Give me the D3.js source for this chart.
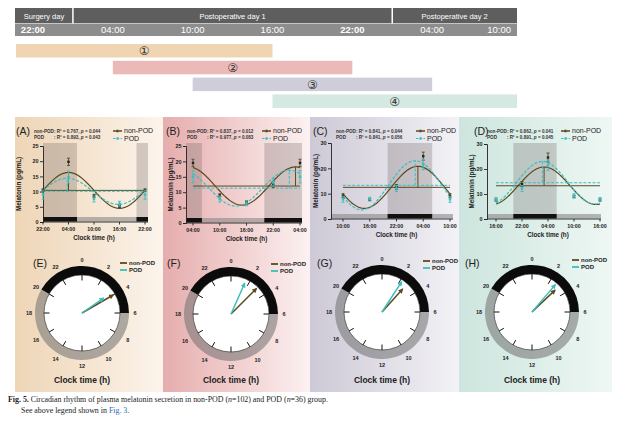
<!DOCTYPE html>
<html><head><meta charset="utf-8">
<script src="https://cdn.jsdelivr.net/npm/d3@7"></script>
<style>body{margin:0;background:#fff}svg{display:block}text{font-family:"Liberation Sans",Arial,sans-serif}</style>
</head><body><svg id="c" width="620" height="428"></svg>
<script>
// ---------------- data ----------------
const dayLabels = ["Surgery day", "Postoperative day 1", "Postoperative day 2"];
const dayBounds = [3, 27];                       // hours after surgery-day 22:00
const headerTimes = ["22:00", "04:00", "10:00", "16:00", "22:00", "04:00", "10:00"];
const headerHours = [0, 6, 12, 18, 24, 30, 36];
const headerBold = [true, false, false, false, true, false, false];
const windowNames = ["①", "②", "③", "④"];
const windowStart = [null, 6, 12, 18];           // null = from the header's left edge
const windowEnd = [18, 24, 30, null];            // null = to the header's right edge
const windowColors = ["#efd5b1", "#ebb9b8", "#cfcdd9", "#d3e9e2"];

const panelTags = ["(A)", "(B)", "(C)", "(D)"];
const clockTags = ["(E)", "(F)", "(G)", "(H)"];
const startClock = [22, 4, 10, 16];
const sampleOffsets = [0, 6, 12, 18, 24];
const xTickLabels = [
  ["22:00", "04:00", "10:00", "16:00", "22:00"],
  ["04:00", "10:00", "16:00", "22:00", "04:00"],
  ["10:00", "16:00", "22:00", "04:00", "10:00"],
  ["16:00", "22:00", "04:00", "10:00", "16:00"]];
const yMaxVals = [25, 25, 30, 30];
const yTickVals = [[0, 5, 10, 15, 20, 25], [0, 5, 10, 15, 20, 25], [0, 10, 20, 30], [0, 10, 20, 30]];
const statNonR2 = ["0.767", "0.837", "0.841", "0.862"];
const statNonP = ["0.044", "0.012", "0.044", "0.041"];
const statPodR2 = ["0.893", "0.977", "0.841", "0.891"];
const statPodP = ["0.043", "0.083", "0.056", "0.045"];

const nonMean = [[10.5, 19.8, 8.6, 5.2, 10.5], [19.5, 9.0, 6.8, 12.5, 19.5], [9.2, 7.6, 12.6, 24.8, 9.2], [7.6, 14.0, 24.6, 9.0, 7.6]];
const nonSE = [[0.4, 1.2, 0.5, 0.4, 0.4], [1.2, 0.5, 0.4, 1.0, 1.2], [0.8, 0.4, 1.0, 1.6, 0.8], [0.4, 1.0, 1.8, 0.5, 0.4]];
const podMean = [[9.0, 14.8, 7.6, 6.0, 9.0], [15.0, 7.8, 6.4, 13.2, 15.0], [7.8, 8.0, 12.0, 21.5, 7.8], [8.0, 12.2, 21.5, 9.3, 8.0]];
const podSE = [[1.5, 2.0, 1.0, 0.8, 1.5], [2.0, 1.0, 0.8, 1.2, 2.0], [1.2, 0.6, 1.2, 2.0, 1.2], [0.6, 1.2, 2.0, 0.8, 0.6]];

const nonMesor = [10.4, 12.0, 12.5, 13.3];
const nonAmp = [5.9, 6.2, 8.3, 7.5];
const nonPhase = [4.0, 3.0, 2.8, 3.1];
const podMesor = [10.1, 11.3, 13.3, 14.5];
const podAmp = [4.3, 5.8, 9.7, 8.5];
const podPhase = [3.7, 1.6, 2.2, 2.7];

const nightStart = 20, nightLen = 10;            // 20:00 -> 06:00
const clockHours = [0, 2, 4, 6, 8, 10, 12, 14, 16, 18, 20, 22];
const seriesNames = ["non-POD", "POD"];
const bgLeft = ["#eed5b6", "#e6adad", "#cdc9d6", "#cde5de"];
const bgRight = ["#fcf4ec", "#fcf1f1", "#f3f2f6", "#eef7f4"];

// ---------------- layout ----------------
const NON = "#5b4a1e", PODC = "#3dbdbe";
const G = {
  ax0: [43, 193, 343, 496], ax24: [145, 300, 450, 600],
  left: [43, 186, 331, 487], right: [148, 302, 453, 601],
  y0: [222, 223, 219, 219], yTop: [146, 146, 143, 144], shadeTop: 143,
  titleX: [21, 173, 318, 474],
  bgX: [15, 163, 310, 459], bgW: [148, 147, 149, 153], bgY: 117, bgH: 275,
  tagX: [16, 166, 313, 474],
  statX: [34, 187, 336, 487],
  legX: [113, 262, 416, 561],
  clockC: [[82, 313], [231, 314], [382, 312], [532, 312]],
  clockTagX: [33, 167, 317, 465],
  clockLegX: [120, 271, 423, 572], clockLegY: [263, 264, 261, 260]
};

const svg = d3.select("#c");
const defs = svg.append("defs");

// ---------- header ----------
const hx = d3.scaleLinear().domain([0, 36]).range([33, 512]);
const HL = 15, HR = 517;
svg.append("rect").attr("x", HL).attr("y", 8).attr("width", HR - HL).attr("height", 15).attr("fill", "#5e5e5e");
svg.append("rect").attr("x", HL).attr("y", 23.5).attr("width", HR - HL).attr("height", 12.5).attr("fill", "#8d8d8d");
dayBounds.forEach(h => svg.append("line").attr("x1", hx(h)).attr("x2", hx(h)).attr("y1", 8).attr("y2", 23.5)
  .attr("stroke", "#fff").attr("stroke-width", 1.5));
const segEdges = [HL, hx(dayBounds[0]), hx(dayBounds[1]), HR];
dayLabels.forEach((t, i) => svg.append("text").attr("x", (segEdges[i] + segEdges[i + 1]) / 2).attr("y", 18.5)
  .attr("text-anchor", "middle").attr("font-size", 7.5).attr("fill", "#fff").text(t));
headerTimes.forEach((t, i) => {
  const last = i === headerTimes.length - 1;
  svg.append("text").attr("x", last ? hx(headerHours[i]) - 1 : hx(headerHours[i])).attr("y", 33)
    .attr("text-anchor", last ? "end" : "middle").attr("font-size", 9.5)
    .attr("font-weight", headerBold[i] ? "bold" : "normal").attr("fill", "#fff").text(t);
});
windowNames.forEach((n, i) => {
  const x1 = windowStart[i] === null ? HL + 1 : hx(windowStart[i]);
  const x2 = windowEnd[i] === null ? HR : hx(windowEnd[i]);
  const yy = 44 + i * 16.8;
  svg.append("rect").attr("x", x1).attr("y", yy).attr("width", x2 - x1).attr("height", 13.5).attr("fill", windowColors[i]);
  svg.append("text").attr("x", (x1 + x2) / 2).attr("y", yy + 11.3).attr("text-anchor", "middle")
    .attr("font-size", 12).attr("fill", "#333").style("font-family", "'DejaVu Sans','Noto Sans CJK SC',sans-serif").text(n);
});

// ---------- arrow markers ----------
[["mNon", NON], ["mPod", PODC]].forEach(([id, c]) => {
  defs.append("marker").attr("id", id).attr("viewBox", "0 0 10 10").attr("refX", 8).attr("refY", 5)
    .attr("markerWidth", 6).attr("markerHeight", 5).attr("markerUnits", "userSpaceOnUse").attr("orient", "auto")
    .append("path").attr("d", "M0,0L10,5L0,10z").attr("fill", c);
});

// ---------- panels ----------
for (let i = 0; i < 4; i++) {
  const gid = "bg" + i;
  const lg = defs.append("linearGradient").attr("id", gid).attr("x1", 0).attr("x2", 1).attr("y1", 0).attr("y2", 0);
  lg.append("stop").attr("offset", 0).attr("stop-color", bgLeft[i]);
  lg.append("stop").attr("offset", 1).attr("stop-color", bgRight[i]);
  svg.append("rect").attr("x", G.bgX[i]).attr("y", G.bgY).attr("width", G.bgW[i]).attr("height", G.bgH).attr("fill", `url(#${gid})`);

  const x = d3.scaleLinear().domain([0, 24]).range([G.ax0[i], G.ax24[i]]);
  const y = d3.scaleLinear().domain([0, yMaxVals[i]]).range([G.y0[i], G.yTop[i]]);
  const d0 = x.invert(G.left[i]), d1 = x.invert(G.right[i]);
  const g = svg.append("g");

  // night shading + light/dark bar
  const ns = (nightStart - startClock[i] + 24) % 24;
  const nights = [];
  [-24, 0, 24].forEach(k => {
    const a = Math.max(d0, ns + k), b = Math.min(d1, ns + k + nightLen);
    if (b > a) nights.push([a, b]);
  });
  nights.forEach(([a, b]) => g.append("rect").attr("x", x(a)).attr("y", G.shadeTop).attr("width", x(b) - x(a))
    .attr("height", G.y0[i] - G.shadeTop).attr("fill", "#6a6060").attr("opacity", 0.28));
  g.append("rect").attr("x", x(d0)).attr("y", G.y0[i] - 5).attr("width", x(d1) - x(d0)).attr("height", 4.5)
    .attr("fill", "#888").attr("opacity", 0.6);
  nights.forEach(([a, b]) => g.append("rect").attr("x", x(a)).attr("y", G.y0[i] - 5).attr("width", x(b) - x(a))
    .attr("height", 4.5).attr("fill", "#111"));

  // axes
  const ya = d3.axisLeft(y).tickValues(yTickVals[i]).tickSize(3).tickPadding(1.5);
  const yg = g.append("g").attr("transform", `translate(${G.left[i]},0)`).call(ya);
  yg.select(".domain").attr("stroke", "#222").attr("stroke-width", 0.9);
  yg.selectAll(".tick line").attr("stroke", "#222").attr("stroke-width", 0.9);
  yg.selectAll("text").attr("font-size", 5.5).attr("font-weight", "bold").attr("fill", "#222")
    .style("font-family", "'Liberation Sans',Arial,sans-serif");
  g.append("line").attr("x1", x(d0)).attr("x2", x(d1)).attr("y1", G.y0[i]).attr("y2", G.y0[i]).attr("stroke", "#222").attr("stroke-width", 0.9);
  sampleOffsets.forEach((t, j) => {
    g.append("line").attr("x1", x(t)).attr("x2", x(t)).attr("y1", G.y0[i]).attr("y2", G.y0[i] + 2.5).attr("stroke", "#222").attr("stroke-width", 0.9);
    g.append("text").attr("x", x(t)).attr("y", G.y0[i] + 8.5).attr("text-anchor", "middle").attr("font-size", 5.3)
      .attr("font-weight", "bold").attr("fill", "#222").text(xTickLabels[i][j]);
  });
  g.append("text").attr("x", (G.ax0[i] + G.ax24[i]) / 2).attr("y", G.y0[i] + 18).attr("text-anchor", "middle")
    .attr("font-size", 6.3).attr("font-weight", "bold").attr("fill", "#222").text("Clock time (h)");
  g.append("text").attr("transform", `translate(${G.titleX[i]},${(G.y0[i] + G.yTop[i]) / 2}) rotate(-90)`)
    .attr("text-anchor", "middle").attr("font-size", 6.3).attr("font-weight", "bold").attr("fill", "#222").text("Melatonin (pg/mL)");

  // mesor lines, amplitude markers, cosinor curves
  const ser = [
    { m: nonMesor[i], a: nonAmp[i], p: nonPhase[i], c: NON, dash: null, mean: nonMean[i], se: nonSE[i] },
    { m: podMesor[i], a: podAmp[i], p: podPhase[i], c: PODC, dash: "3,1.6", mean: podMean[i], se: podSE[i] }];
  ser.forEach(s => {
    g.append("line").attr("x1", x(0)).attr("x2", x(24)).attr("y1", y(s.m)).attr("y2", y(s.m))
      .attr("stroke", s.c).attr("stroke-width", 1).attr("stroke-dasharray", s.dash);
    const tp = (s.p - startClock[i] + 24) % 24;
    g.append("line").attr("x1", x(tp)).attr("x2", x(tp)).attr("y1", y(s.m)).attr("y2", y(s.m + s.a))
      .attr("stroke", s.c).attr("stroke-width", 1).attr("stroke-dasharray", s.dash);
    const ts = d3.range(0, 24.001, 0.2);
    const line = d3.line().x(t => x(t)).y(t => y(s.m + s.a * Math.cos(2 * Math.PI * ((startClock[i] + t) - s.p) / 24)));
    g.append("path").attr("d", line(ts)).attr("fill", "none").attr("stroke", s.c).attr("stroke-width", 1.2)
      .attr("stroke-dasharray", s.dash);
  });
  // error bars + points
  ser.forEach(s => {
    sampleOffsets.forEach((t, j) => {
      const cx = x(t), lo = y(s.mean[j] - s.se[j]), hi = y(s.mean[j] + s.se[j]);
      g.append("line").attr("x1", cx).attr("x2", cx).attr("y1", lo).attr("y2", hi).attr("stroke", s.c).attr("stroke-width", 0.9);
      [lo, hi].forEach(v => g.append("line").attr("x1", cx - 1.5).attr("x2", cx + 1.5).attr("y1", v).attr("y2", v).attr("stroke", s.c).attr("stroke-width", 0.9));
      g.append("rect").attr("x", cx - 1.2).attr("y", y(s.mean[j]) - 1.2).attr("width", 2.4).attr("height", 2.4)
        .attr("fill", s.c === NON ? "#222" : s.c);
    });
  });

  // panel tag, stats, legend
  svg.append("text").attr("x", G.tagX[i]).attr("y", 135).attr("font-size", 10.5).attr("fill", "#222").text(panelTags[i]);
  const st1 = svg.append("text").attr("x", G.statX[i]).attr("y", 132.5).attr("font-size", 4.6).attr("font-weight", "bold").attr("fill", "#333");
  st1.append("tspan").text(`non-POD: R² = ${statNonR2[i]}, `);
  st1.append("tspan").attr("font-style", "italic").text("p");
  st1.append("tspan").text(` = ${statNonP[i]}`);
  const probe = svg.append("text").attr("font-size", 4.6).attr("font-weight", "bold").text("non-POD");
  const w = probe.node().getComputedTextLength(); probe.remove();
  svg.append("text").attr("x", G.statX[i]).attr("y", 139).attr("font-size", 4.6).attr("font-weight", "bold").attr("fill", "#333").text("POD");
  const st2 = svg.append("text").attr("x", G.statX[i] + w).attr("y", 139).attr("font-size", 4.6).attr("font-weight", "bold").attr("fill", "#333");
  st2.append("tspan").text(`: R² = ${statPodR2[i]}, `);
  st2.append("tspan").attr("font-style", "italic").text("p");
  st2.append("tspan").text(` = ${statPodP[i]}`);
  seriesNames.forEach((nm, k) => {
    const ly = 131 + k * 7.5, lx = G.legX[i];
    svg.append("line").attr("x1", lx).attr("x2", lx + 9).attr("y1", ly).attr("y2", ly)
      .attr("stroke", k ? PODC : NON).attr("stroke-width", k ? 1.2 : 1.5).attr("stroke-dasharray", k ? "2.5,1.3" : null);
    svg.append("rect").attr("x", lx + 3.5).attr("y", ly - 1.3).attr("width", 2).attr("height", 2.6).attr("fill", k ? PODC : NON);
    svg.append("text").attr("x", lx + 11).attr("y", ly + 2.4).attr("font-size", 7).attr("fill", "#222").text(nm);
  });

  // ---------- clock ----------
  const [cx, cy] = G.clockC[i];
  const cg = svg.append("g").attr("transform", `translate(${cx},${cy})`);
  const RI = 38, RO = 47, TAU = 2 * Math.PI;
  const arc = d3.arc();
  cg.append("path").attr("d", arc({ innerRadius: RI, outerRadius: RO, startAngle: (nightStart - 24) / 24 * TAU, endAngle: (nightStart + nightLen - 24) / 24 * TAU })).attr("fill", "#0b0b0b");
  cg.append("path").attr("d", arc({ innerRadius: RI, outerRadius: RO, startAngle: (nightStart + nightLen - 24) / 24 * TAU, endAngle: nightStart / 24 * TAU })).attr("fill", "#707070").attr("opacity", 0.55);
  cg.append("circle").attr("r", RI).attr("fill", "#fff").attr("stroke", "#222").attr("stroke-width", 0.6);
  clockHours.forEach(h => {
    const a = h / 24 * TAU, s = Math.sin(a), c = -Math.cos(a);
    cg.append("line").attr("x1", s * (RI - 5.5)).attr("y1", c * (RI - 5.5)).attr("x2", s * RI).attr("y2", c * RI)
      .attr("stroke", "#111").attr("stroke-width", 1);
    cg.append("text").attr("x", s * 53).attr("y", c * 53 + 2).attr("text-anchor", "middle").attr("font-size", 5.5)
      .attr("font-weight", "bold").attr("fill", "#222").text(h);
  });
  const maxA = Math.max(nonAmp[i], podAmp[i]);
  const L = d3.scaleLinear().domain([0, maxA]).range([0, 36]);
  [[nonAmp[i], nonPhase[i], NON, "mNon"], [podAmp[i], podPhase[i], PODC, "mPod"]].forEach(([amp, ph, col, mk]) => {
    const a = ph / 24 * TAU, len = L(amp);
    cg.append("line").attr("x1", 0).attr("y1", 0).attr("x2", Math.sin(a) * len).attr("y2", -Math.cos(a) * len)
      .attr("stroke", col).attr("stroke-width", 1.5).attr("marker-end", `url(#${mk})`);
  });
  svg.append("text").attr("x", G.clockTagX[i]).attr("y", 267).attr("font-size", 10.5).attr("fill", "#222").text(clockTags[i]);
  seriesNames.forEach((nm, k) => {
    const ly = G.clockLegY[i] + k * 7, lx = G.clockLegX[i];
    svg.append("line").attr("x1", lx).attr("x2", lx + 7).attr("y1", ly).attr("y2", ly).attr("stroke", k ? PODC : NON).attr("stroke-width", 1.8);
    svg.append("text").attr("x", lx + 9).attr("y", ly + 2).attr("font-size", 6).attr("font-weight", "bold").attr("fill", "#222").text(nm);
  });
  svg.append("text").attr("x", cx).attr("y", 383).attr("text-anchor", "middle").attr("font-size", 8.5)
    .attr("font-weight", "bold").attr("fill", "#222").text("Clock time (h)");
}

// ---------- caption ----------
const cap = svg.append("text").attr("x", 8).attr("y", 402).attr("font-size", 7.9).attr("fill", "#222").style("font-family", "'Liberation Serif','DejaVu Serif',serif");
cap.append("tspan").attr("font-weight", "bold").text("Fig. 5.");
cap.append("tspan").text("  Circadian rhythm of plasma melatonin secretion in non-POD (");
cap.append("tspan").attr("font-style", "italic").text("n");
cap.append("tspan").text("=102) and POD (");
cap.append("tspan").attr("font-style", "italic").text("n");
cap.append("tspan").text("=36) group.");
const cap2 = svg.append("text").attr("x", 21).attr("y", 413).attr("font-size", 7.9).attr("fill", "#222").style("font-family", "'Liberation Serif','DejaVu Serif',serif");
cap2.append("tspan").text("See above legend shown in ");
cap2.append("tspan").attr("fill", "#2a6fb5").text("Fig. 3");
cap2.append("tspan").text(".");
</script></body></html>
